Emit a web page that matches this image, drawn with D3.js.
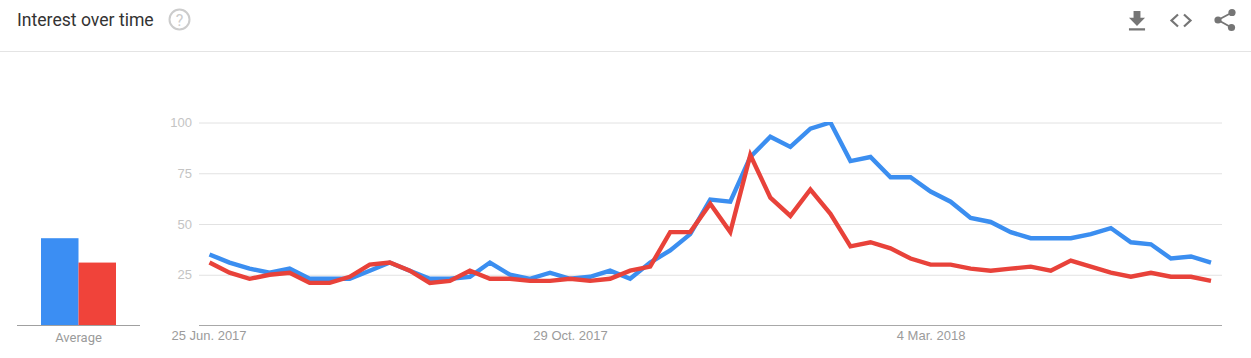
<!DOCTYPE html>
<html>
<head>
<meta charset="utf-8">
<script src="https://cdn.jsdelivr.net/npm/d3@7"></script>
<style>
  html, body { margin: 0; padding: 0; background: #fff; overflow: hidden; }
  svg { display: block; font-family: Roboto, sans-serif; }
  .axis .domain { display: none; }
  .axis--y line { stroke: #e2e2e2; }
  .axis--y text { fill: #c4c4c4; font-size: 13px; }
  .axis--x line { display: none; }
  .axis--x text { fill: #9b9b9b; font-size: 13px; }
</style>
</head>
<body>
<svg id="chart" width="1251" height="358"></svg>
<script>
// weekly values
const blueValues = [35, 31, 28, 26, 28, 23, 23, 23, 27, 31, 27, 23, 23, 24, 31, 25, 23,
  26, 23, 24, 27, 23, 31, 37, 45, 62, 61, 83, 93, 88, 97, 100, 81,
  83, 73, 73, 66, 61, 53, 51, 46, 43, 43, 43, 45, 48, 41, 40, 33, 34, 31];
const redValues = [31, 26, 23, 25, 26, 21, 21, 24, 30, 31, 27, 21, 22, 27, 23, 23, 22,
  22, 23, 22, 23, 27, 29, 46, 46, 60, 46, 84, 63, 54, 67, 55, 39,
  41, 38, 33, 30, 30, 28, 27, 28, 29, 27, 32, 29, 26, 24, 26, 24, 24, 22];
const averageValues = [43, 31];
const averageColors = ["#3b8ef3", "#f0433a"];
const yTicks = [25, 50, 75, 100];
const xTickIndex = [0, 18, 36];
const xTickLabels = ["25 Jun. 2017", "29 Oct. 2017", "4 Mar. 2018"];

const svg = d3.select("#chart");

const x = d3.scaleLinear().domain([0, blueValues.length - 1]).range([209.5, 1211]);
const y = d3.scaleLinear().domain([0, 100]).range([325.5, 122.5]);

// header
svg.append("text")
  .attr("x", 17)
  .attr("y", 26)
  .attr("fill", "#333")
  .style("font-size", "17.6px")
  .text("Interest over time");

const help = svg.append("g").attr("transform", "translate(179.5,19.5)");
help.append("circle")
  .attr("r", 10)
  .attr("fill", "none")
  .attr("stroke", "#ccc")
  .attr("stroke-width", 2);
help.append("text")
  .attr("y", 6)
  .attr("text-anchor", "middle")
  .attr("fill", "#ccc")
  .style("font-size", "16px")
  .text("?");

svg.append("line")
  .attr("x1", 0)
  .attr("x2", 1251)
  .attr("y1", 51.5)
  .attr("y2", 51.5)
  .attr("stroke", "#e4e4e4");

// header icons
const iconColor = "#757575";
svg.append("path")
  .attr("transform", "translate(1123.2,7.5) scale(1.15)")
  .attr("d", "M19 9h-4V3H9v6H5l7 7 7-7zM5 18v2h14v-2H5z")
  .attr("fill", iconColor);
svg.append("path")
  .attr("d", "M1178 14.5L1171.5 20.5L1178 26.5M1184 14.5L1190.5 20.5L1184 26.5")
  .attr("fill", "none")
  .attr("stroke", iconColor)
  .attr("stroke-width", 2.2);
svg.append("path")
  .attr("d", "M1232 12.5L1218 20L1231.5 27.5")
  .attr("fill", "none")
  .attr("stroke", iconColor)
  .attr("stroke-width", 1.8);
svg.selectAll(".share-dot")
  .data([[1232, 12.5], [1218, 20], [1231.5, 27.5]])
  .enter()
  .append("circle")
  .attr("class", "share-dot")
  .attr("cx", (d) => d[0])
  .attr("cy", (d) => d[1])
  .attr("r", 3.6)
  .attr("fill", iconColor);

// gridlines and labels
svg.append("g")
  .attr("class", "axis axis--y")
  .attr("transform", "translate(199,0)")
  .call(d3.axisLeft(y).tickValues(yTicks).tickSize(-1023).tickPadding(7));

svg.append("line")
  .attr("x1", 199)
  .attr("x2", 1222)
  .attr("y1", y(0))
  .attr("y2", y(0))
  .attr("stroke", "#a8a8a8");

svg.append("g")
  .attr("class", "axis axis--x")
  .attr("transform", `translate(0,${y(0)})`)
  .call(
    d3.axisBottom(x)
      .tickValues(xTickIndex)
      .tickFormat((d, i) => xTickLabels[i])
      .tickSize(0)
      .tickPadding(5)
  );
// the first label sits a little left of its tick
svg.select(".axis--x .tick text").attr("dx", -1);

// the line is cut off at the top of the plot, like the 100 peak in the original
svg.append("clipPath")
  .attr("id", "plot-clip")
  .append("rect")
  .attr("x", 199)
  .attr("y", y(100) - 0.5)
  .attr("width", 1023)
  .attr("height", y(0) - y(100));

const line = d3.line()
  .x((d, i) => x(i))
  .y((d) => y(d));

svg.selectAll(".line")
  .data([
    { values: blueValues, color: "#3b8ef0" },
    { values: redValues, color: "#e8423a" }
  ])
  .enter()
  .append("path")
  .attr("class", "line")
  .attr("clip-path", "url(#plot-clip)")
  .attr("d", (d) => line(d.values))
  .attr("fill", "none")
  .attr("stroke", (d) => d.color)
  .attr("stroke-width", 4.4);

// average bars on the left
const barX = d3.scaleBand().domain([0, 1]).range([41, 116]);

svg.selectAll(".bar")
  .data(averageValues)
  .enter()
  .append("rect")
  .attr("class", "bar")
  .attr("x", (d, i) => barX(i))
  .attr("width", barX.bandwidth())
  .attr("y", (d) => y(d))
  .attr("height", (d) => y(0) - y(d))
  .attr("fill", (d, i) => averageColors[i]);

svg.append("line")
  .attr("x1", 17)
  .attr("x2", 140)
  .attr("y1", y(0))
  .attr("y2", y(0))
  .attr("stroke", "#a0a0a0");

svg.append("text")
  .attr("x", 78.5)
  .attr("y", 342)
  .attr("text-anchor", "middle")
  .attr("fill", "#9b9b9b")
  .style("font-size", "13px")
  .text("Average");
</script>
</body>
</html>
